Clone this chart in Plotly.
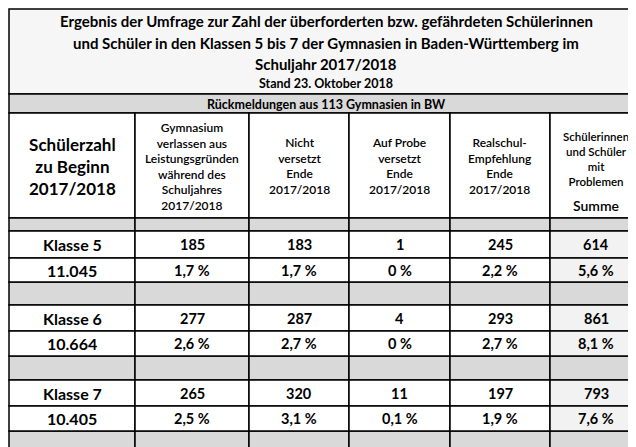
import plotly.graph_objects as go

# Daten
title_lines = [
    "Ergebnis der Umfrage zur Zahl der überforderten bzw. gefährdeten Schülerinnen",
    "und Schüler in den Klassen 5 bis 7 der Gymnasien in Baden-Württemberg im",
    "Schuljahr 2017/2018",
]
stand = "Stand 23. Oktober 2018"
subtitle = "Rückmeldungen aus 113 Gymnasien in BW"
headers = [
    "Gymnasium<br>verlassen aus<br>Leistungsgründen<br>während des<br>Schuljahres<br>2017/2018",
    "Nicht<br>versetzt<br>Ende<br>2017/2018",
    "Auf Probe<br>versetzt<br>Ende<br>2017/2018",
    "Realschul-<br>Empfehlung<br>Ende<br>2017/2018",
]
summe_kopf = "Schülerinnen<br>und Schüler<br>mit<br>Problemen"
klassen = ["Klasse 5", "Klasse 6", "Klasse 7"]
schuelerzahl = ["11.045", "10.664", "10.405"]
anzahl = [[185, 183, 1, 245, 614], [277, 287, 4, 293, 861], [265, 320, 11, 197, 793]]
anteil = [["1,7 %", "1,7 %", "0 %", "2,2 %", "5,6 %"],
          ["2,6 %", "2,7 %", "0 %", "2,7 %", "8,1 %"],
          ["2,5 %", "3,1 %", "0,1 %", "1,9 %", "7,6 %"]]

# Layout-Raster (Pixel)
cols = [1, 127, 241, 341, 442, 542, 634]
gray_rows = [(210, 223), (274, 297), (348, 372), (423, 446)]
data_rows = [(223, 250, 274), (297, 323, 348), (372, 398, 423)]
GRAY = "#d9d9d9"
FONT = "Lato"

fig = go.Figure()
shapes = []
ann = []


def rect(x0, y0, x1, y1, fill="white", lw=1.5):
    shapes.append(dict(type="rect", x0=x0, x1=x1, y0=y0, y1=y1, fillcolor=fill,
                       line=dict(color="black", width=lw), layer="below"))


def text(x, y, s, size=12, bold=True, family=FONT):
    ann.append(dict(x=x, y=y, text=f"<b>{s}</b>" if bold else s, showarrow=False,
                    font=dict(family=family, size=size, color="black")))


rect(cols[0], 1, cols[-1], 86, "#f6f6f6")
for i, line in enumerate(title_lines):
    text(318, 13 + i * 21.5, line, 15)
text(318, 75, stand, 12.5)
rect(cols[0], 86, cols[-1], 105, GRAY)
text(318, 96, subtitle, 12.5)

# Kopfzeile
rect(cols[0], 105, cols[1], 210)
text(64, 158, "Schülerzahl<br>zu Beginn<br>2017/2018", 17)
for i, h in enumerate(headers):
    rect(cols[i + 1], 105, cols[i + 2], 210)
    text((cols[i + 1] + cols[i + 2]) / 2, 158, h, 12, bold=False, family="Lato Semibold, Lato")
rect(cols[5], 105, cols[6], 210)
text(588, 151, summe_kopf, 11.5, bold=False, family="Lato Semibold, Lato")
text(588, 197, "Summe", 14, bold=False, family="Lato Semibold, Lato")

for y0, y1 in gray_rows:
    for c in range(6):
        rect(cols[c], y0, cols[c + 1], y1, GRAY)

for k, (y0, ym, y1) in enumerate(data_rows):
    rect(cols[0], y0, cols[1], ym)
    rect(cols[0], ym, cols[1], y1)
    text(64, (y0 + ym) / 2, klassen[k], 16)
    text(64, (ym + y1) / 2, schuelerzahl[k], 16)
    for c in range(5):
        fill = "#f2f2f2" if c == 4 else "white"
        rect(cols[c + 1], y0, cols[c + 2], ym, fill)
        rect(cols[c + 1], ym, cols[c + 2], y1, fill)
        xc = (cols[c + 1] + cols[c + 2]) / 2
        text(xc, (y0 + ym) / 2, str(anzahl[k][c]), 14.5)
        text(xc, (ym + y1) / 2, anteil[k][c], 14.5)

fig.update_layout(
    width=636, height=447, margin=dict(l=0, r=0, t=0, b=0),
    paper_bgcolor="white", plot_bgcolor="white",
    xaxis=dict(range=[0, 636], visible=False, fixedrange=True),
    yaxis=dict(range=[447, 0], visible=False, fixedrange=True),
    shapes=shapes, annotations=ann, showlegend=False,
)
fig.write_html("out.html")
